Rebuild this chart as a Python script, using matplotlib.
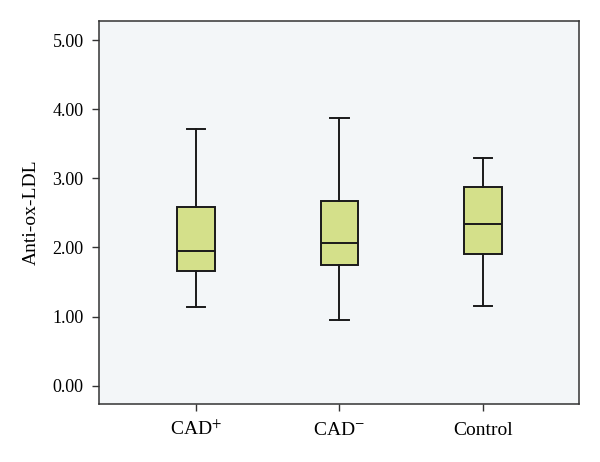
import matplotlib
matplotlib.use("Agg")
import matplotlib.pyplot as plt

categories = ["CAD$^{+}$", "CAD$^{-}$", "Control"]
whislo = [1.14, 0.95, 1.16]
q1 = [1.66, 1.74, 1.90]
med = [1.95, 2.07, 2.34]
q3 = [2.58, 2.67, 2.87]
whishi = [3.72, 3.88, 3.30]
yticks = [0.0, 1.0, 2.0, 3.0, 4.0, 5.0]
ylabel = "Anti-ox-LDL"

plt.rcParams['font.family'] = ['Liberation Serif', 'DejaVu Serif']
plt.rcParams['mathtext.fontset'] = 'stix'

fig = plt.figure(figsize=(6, 4.62), dpi=100)
ax = fig.add_axes([0.165, 0.1255, 0.800, 0.830])
ax.set_facecolor('#f3f6f8')

stats = []
for i, c in enumerate(categories):
    stats.append(dict(label=c, whislo=whislo[i], q1=q1[i], med=med[i],
                      q3=q3[i], whishi=whishi[i], fliers=[]))

lw = 1.4
ec = '#1a1a1a'
ax.bxp(stats, positions=[1, 2, 3], widths=0.26, patch_artist=True,
       showfliers=False,
       boxprops=dict(facecolor='#d4e08a', edgecolor=ec, linewidth=lw),
       medianprops=dict(color=ec, linewidth=lw),
       whiskerprops=dict(color=ec, linewidth=lw),
       capprops=dict(color=ec, linewidth=lw),
       capwidths=0.13)

ax.set_xlim(0.325, 3.67)
ax.set_ylim(-0.265, 5.284)
ax.set_yticks(yticks)
ax.set_yticklabels([f"{v:.2f}" for v in yticks])
ax.set_ylabel(ylabel, fontsize=14, labelpad=9)
ax.tick_params(axis='both', length=5, width=1.0, color='#333333')
ax.tick_params(axis='x', pad=17, labelsize=14)
ax.tick_params(axis='y', pad=6, labelsize=13)
for lab in ax.get_xticklabels():
    lab.set_verticalalignment('baseline')
for s in ax.spines.values():
    s.set_color('#333333')
    s.set_linewidth(1.1)

fig.savefig("out.png", dpi=100, facecolor='white')
